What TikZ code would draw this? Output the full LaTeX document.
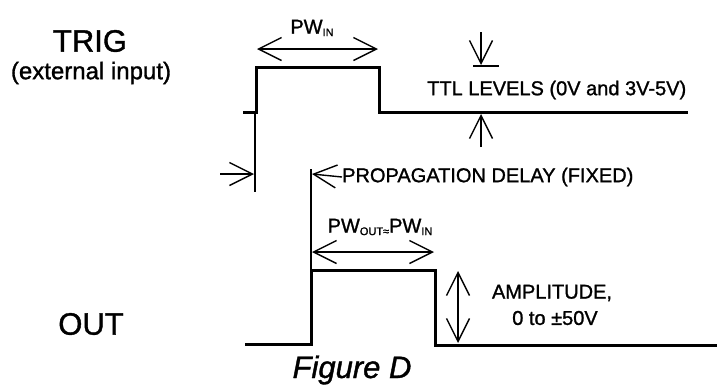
\documentclass[tikz,border=0pt]{standalone}
\usepackage{fontspec}
\setmainfont{Liberation Sans}[FakeBold=1.2]
\usetikzlibrary{arrows.meta}
\newcommand{\fsz}[1]{\fontsize{#1}{#1}\selectfont}
\newcommand{\sbs}[1]{\raisebox{-2.5pt}{\fsz{11}#1}}
\begin{document}
\begin{tikzpicture}[x=1pt,y=-1pt,
  wave/.style={line width=3pt, line join=miter},
  thinln/.style={line width=1.4pt},
  barb/.tip={Straight Barb[length=23pt,width=23pt,line width=1.4pt]},
  dimarrow/.style={line width=1.4pt, barb-barb},
  onearrow/.style={line width=1.4pt, -barb},
  lbl/.style={inner sep=0pt, font=\fsz{20}},
  big/.style={inner sep=0pt, font=\fsz{31}}
]
\useasboundingbox (0,0) rectangle (717,389);
% TRIG waveform
\coordinate (t0) at (243,112);
\coordinate (t1) at (256,112);
\coordinate (t2) at (256,67);
\coordinate (t3) at (379,67);
\coordinate (t4) at (379,112);
\coordinate (t5) at (688,112);
\draw[wave] (t0) -- (t1) -- (t2) -- (t3) -- (t4) -- (t5);
% OUT waveform
\coordinate (o0) at (245,344);
\coordinate (o1) at (311,344);
\coordinate (o2) at (311,270);
\coordinate (o3) at (435,270);
\coordinate (o4) at (435,345);
\coordinate (o5) at (717,345);
\draw[wave] (o0) -- (o1) -- (o2) -- (o3) -- (o4) -- (o5);
% labels
\node[big] (trig) at (90,41) {TRIG};
\node[inner sep=0pt, font=\fsz{24}] (ext) at (91,73) {(external input)};
\node[big] (out) at (91,324) {OUT};
\node[inner sep=0pt, font=\itshape\fsz{31}] (fig) at (352,370) {Figure D};
% PW_IN
\node[lbl] (pwin) at (312,28) {PW\sbs{IN}};
\coordinate (pa) at (257,49);
\coordinate (pb) at (378,49);
\draw[dimarrow] (pa) -- (pb);
% TTL levels
\node[lbl, anchor=west] (ttl) at (427,90) {TTL LEVELS (0V and 3V-5V)};
\coordinate (da) at (481,32);
\coordinate (db) at (481,65);
\draw[onearrow] (da) -- (db);
\coordinate (bl) at (473,66);
\coordinate (br) at (499,66);
\draw[thinln] (bl) -- (br);
\coordinate (ua) at (481,147);
\coordinate (ub) at (481,114);
\draw[onearrow] (ua) -- (ub);
% propagation delay
\coordinate (v1a) at (255,113);
\coordinate (v1b) at (255,192);
\draw[thinln] (v1a) -- (v1b);
\coordinate (la) at (220,174);
\coordinate (lb) at (254,174);
\draw[onearrow] (la) -- (lb);
\coordinate (v2a) at (311,169);
\coordinate (v2b) at (311,270);
\draw[thinln] (v2a) -- (v2b);
\node[lbl, anchor=west] (prop) at (342,177) {PROPAGATION DELAY (FIXED)};
\coordinate (ra) at (312,174);
\draw[onearrow] (prop.west) -- (ra);
% PW_OUT
\node[lbl] (pwout) at (380,227) {PW\sbs{OUT≈}PW\sbs{IN}};
\coordinate (qa) at (312,252);
\coordinate (qb) at (434,252);
\draw[dimarrow] (qa) -- (qb);
% amplitude
\coordinate (aa) at (458,271);
\coordinate (ab) at (458,343);
\draw[dimarrow] (aa) -- (ab);
\node[lbl] (amp) at (552,293) {AMPLITUDE,};
\node[lbl] (amp2) at (555,318) {0 to ±50V};
\end{tikzpicture}
\end{document}
